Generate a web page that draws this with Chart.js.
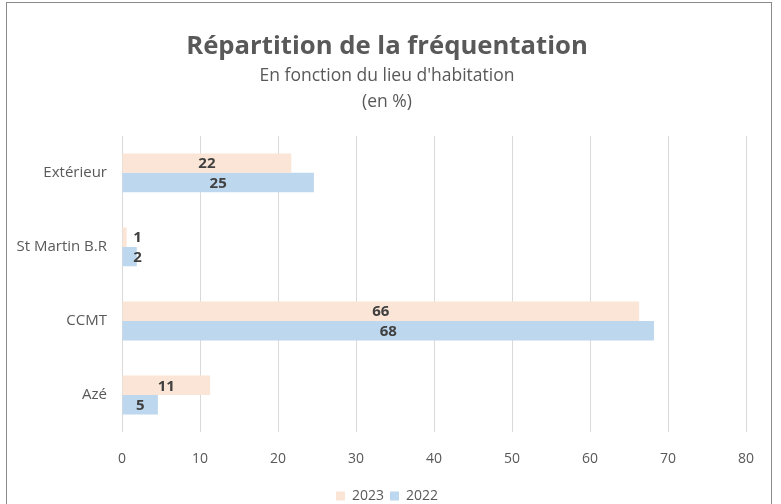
<!DOCTYPE html>
<html>
<head>
<meta charset="utf-8">
<script src="https://cdn.jsdelivr.net/npm/chart.js@4/dist/chart.umd.min.js"></script>
<style>
  html, body { margin: 0; padding: 0; background: #fff; }
  #wrap { position: relative; width: 781px; height: 504px; overflow: hidden; }
  #frame { position: absolute; left: 6px; top: 2px; width: 766px; height: 540px; border: 1.5px solid #8a8a8a; box-sizing: border-box; pointer-events: none; }
  canvas { position: absolute; left: 0; top: 0; }
</style>
</head>
<body>
<div id="wrap">
  <canvas id="c" width="781" height="504"></canvas>
  <div id="frame"></div>
</div>
<script>
const categories = ["Extérieur", "St Martin B.R", "CCMT", "Azé"];
const values2023 = [21.7, 0.6, 66.3, 11.3];
const values2022 = [24.6, 1.9, 68.2, 4.6];
const seriesNames = ["2023", "2022"];
const xTicks = [0, 10, 20, 30, 40, 50, 60, 70, 80];

const FONT = "'Open Sans', 'Liberation Sans', sans-serif";
const TEXT = '#595959';

const labelPlugin = {
  id: 'barLabels',
  afterDatasetsDraw(chart) {
    const ctx = chart.ctx;
    ctx.save();
    ctx.font = "bold 15px " + FONT;
    ctx.fillStyle = '#404040';
    ctx.textAlign = 'center';
    ctx.textBaseline = 'middle';
    chart.data.datasets.forEach((ds, di) => {
      const meta = chart.getDatasetMeta(di);
      meta.data.forEach((bar, i) => {
        const v = ds.data[i];
        const txt = String(Math.round(v));
        const center = (bar.x + bar.base) / 2;
        const x = Math.max(center, bar.base + 15);
        ctx.fillText(txt, x, bar.y + 1);
      });
    });
    ctx.restore();
  }
};

new Chart(document.getElementById('c'), {
  type: 'bar',
  data: {
    labels: categories,
    datasets: [
      { label: seriesNames[0], data: values2023, backgroundColor: '#FBE5D6', borderWidth: 0 },
      { label: seriesNames[1], data: values2022, backgroundColor: '#BDD7EE', borderWidth: 0 }
    ]
  },
  options: {
    indexAxis: 'y',
    responsive: false,
    animation: false,
    devicePixelRatio: 1,
    layout: { padding: { left: 0, right: 7, top: 0, bottom: -9 } },
    datasets: { bar: { categoryPercentage: 0.525, barPercentage: 1 } },
    plugins: {
      title: {
        display: true,
        text: 'Répartition de la fréquentation',
        color: TEXT,
        font: { family: FONT, size: 25.7, weight: 'bold' },
        padding: { top: 31, bottom: 0 }
      },
      subtitle: {
        display: true,
        text: ["En fonction du lieu d'habitation", "(en %)"],
        color: TEXT,
        font: { family: FONT, size: 17.5, lineHeight: 1.486 },
        padding: { top: 1, bottom: 21 }
      },
      legend: {
        position: 'bottom',
        labels: {
          color: TEXT,
          font: { family: FONT, size: 14 },
          boxWidth: 9, boxHeight: 9,
          padding: 6
        }
      },
      tooltip: { enabled: false }
    },
    scales: {
      x: {
        min: 0, max: 80,
        afterBuildTicks(scale) { scale.ticks = xTicks.map(v => ({ value: v })); },
        afterFit(scale) { scale.height = 51; },
        grid: { color: '#D9D9D9', lineWidth: 1, drawTicks: false },
        border: { display: false },
        ticks: { color: TEXT, font: { family: FONT, size: 14 }, padding: 19 }
      },
      y: {
        afterFit(scale) { scale.width = 122; },
        grid: { display: false, drawTicks: false },
        border: { display: false },
        ticks: { color: TEXT, font: { family: FONT, size: 15 }, padding: 15 }
      },
      spacer: {
        type: 'linear',
        position: 'right',
        display: true,
        afterFit(scale) { scale.width = 28; },
        grid: { display: false, drawTicks: false },
        border: { display: false },
        ticks: { display: false }
      }
    }
  },
  plugins: [labelPlugin]
});
</script>
</body>
</html>
